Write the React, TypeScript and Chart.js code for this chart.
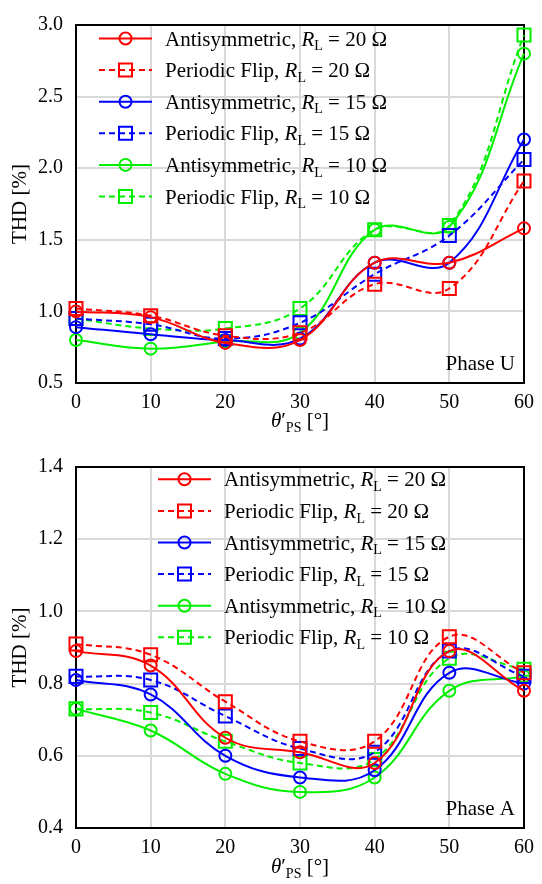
import React, { useEffect, useRef } from 'react';
import { Chart, registerables } from 'chart.js';

Chart.register(...registerables);

// ---------- DATA ----------
const angles = [0, 10, 20, 30, 40, 50, 60];

// Phase U
const uAnti20 = [1.0, 0.96, 0.78, 0.8, 1.34, 1.34, 1.58];
const uFlip20 = [1.02, 0.97, 0.83, 0.85, 1.19, 1.16, 1.91];
const uAnti15 = [0.89, 0.84, 0.8, 0.81, 1.34, 1.34, 2.2];
const uFlip15 = [0.95, 0.91, 0.81, 0.92, 1.26, 1.53, 2.06];
const uAnti10 = [0.8, 0.74, 0.79, 0.85, 1.57, 1.59, 2.8];
const uFlip10 = [0.95, 0.88, 0.88, 1.02, 1.57, 1.6, 2.93];

// Phase A
const aAnti20 = [0.89, 0.85, 0.65, 0.61, 0.58, 0.89, 0.78];
const aFlip20 = [0.91, 0.88, 0.75, 0.64, 0.64, 0.93, 0.83];
const aAnti15 = [0.81, 0.77, 0.6, 0.54, 0.56, 0.83, 0.8];
const aFlip15 = [0.82, 0.81, 0.71, 0.62, 0.61, 0.89, 0.82];
const aAnti10 = [0.73, 0.67, 0.55, 0.5, 0.54, 0.78, 0.82];
const aFlip10 = [0.73, 0.72, 0.64, 0.58, 0.59, 0.87, 0.84];

const seriesLabels = ['Antisymmetric', 'Periodic Flip', 'Antisymmetric', 'Periodic Flip', 'Antisymmetric', 'Periodic Flip'];
const seriesR = ['20', '20', '15', '15', '10', '10'];
const seriesColors = ['#ff0000', '#ff0000', '#0000ff', '#0000ff', '#00f000', '#00f000'];

const FONT = "'Liberation Serif', 'Times New Roman', serif";

type Part = { t: string; italic?: boolean; sub?: boolean };

function drawRich(ctx: CanvasRenderingContext2D, parts: Part[], x: number, y: number, size: number, align: 'left' | 'center') {
  const subSize = Math.round(size * 0.68);
  const fontFor = (p: Part) => `${p.italic ? 'italic ' : ''}${p.sub ? subSize : size}px ${FONT}`;
  let total = 0;
  for (const p of parts) {
    ctx.font = fontFor(p);
    total += ctx.measureText(p.t).width;
  }
  let cx = align === 'center' ? x - total / 2 : x;
  ctx.textAlign = 'left';
  ctx.textBaseline = 'alphabetic';
  for (const p of parts) {
    ctx.font = fontFor(p);
    ctx.fillText(p.t, cx, p.sub ? y + size * 0.22 : y);
    cx += ctx.measureText(p.t).width;
  }
}

const customPlugin = {
  id: 'custom',
  beforeDatasetsDraw(chart: any) {
    const { ctx, chartArea } = chart;
    ctx.save();
    ctx.strokeStyle = '#000';
    ctx.lineWidth = 2;
    ctx.strokeRect(chartArea.left, chartArea.top, chartArea.right - chartArea.left, chartArea.bottom - chartArea.top);
    ctx.restore();
  },
  afterDraw(chart: any, _args: any, opts: any) {
    const { ctx, chartArea } = chart;
    ctx.save();
    ctx.fillStyle = '#000';
    // legend
    chart.data.datasets.forEach((ds: any, i: number) => {
      const y = opts.legendY + i * opts.legendStep;
      const x0 = opts.legendX;
      const x1 = x0 + 53;
      const mx = (x0 + x1) / 2;
      ctx.strokeStyle = ds.borderColor;
      ctx.lineWidth = 2;
      ctx.setLineDash(ds.borderDash || []);
      ctx.beginPath();
      ctx.moveTo(x0, y);
      ctx.lineTo(x1, y);
      ctx.stroke();
      ctx.setLineDash([]);
      ctx.beginPath();
      if (ds.pointStyle === 'rect') {
        ctx.rect(mx - 6.5, y - 6.5, 13, 13);
      } else {
        ctx.arc(mx, y, 6, 0, Math.PI * 2);
      }
      ctx.stroke();
      ctx.fillStyle = '#000';
      drawRich(
        ctx,
        [
          { t: seriesLabels[i] + ', ' },
          { t: 'R', italic: true },
          { t: 'L', sub: true },
          { t: ' = ' + seriesR[i] + ' \u03A9' },
        ],
        x0 + 66,
        y + 7,
        21,
        'left'
      );
    });
    // phase label
    ctx.font = `21px ${FONT}`;
    ctx.textAlign = 'right';
    ctx.textBaseline = 'alphabetic';
    ctx.fillStyle = '#000';
    ctx.fillText(opts.phase, chartArea.right - 9, chartArea.bottom - 13);
    // x title
    drawRich(
      ctx,
      [{ t: '\u03B8', italic: true }, { t: '\u2032' }, { t: 'PS', sub: true }, { t: ' [\u00B0]' }],
      (chartArea.left + chartArea.right) / 2,
      opts.xTitleY,
      21,
      'center'
    );
    // y title
    ctx.translate(20, (chartArea.top + chartArea.bottom) / 2);
    ctx.rotate(-Math.PI / 2);
    ctx.font = `21px ${FONT}`;
    ctx.textAlign = 'center';
    ctx.textBaseline = 'middle';
    ctx.fillText('THD [%]', 0, 0);
    ctx.restore();
  },
};

function makeDatasets(vals: number[][]) {
  return vals.map((v, i) => ({
    label: seriesLabels[i] + ', RL = ' + seriesR[i] + ' \u03A9',
    data: angles.map((a, j) => ({ x: a, y: v[j] })),
    borderColor: seriesColors[i],
    backgroundColor: 'transparent',
    borderWidth: 2,
    borderDash: i % 2 === 1 ? [6, 4] : [],
    pointStyle: i % 2 === 1 ? 'rect' : 'circle',
    pointRadius: i % 2 === 1 ? 9.2 : 6,
    pointBorderWidth: 2,
    pointBorderColor: seriesColors[i],
    pointBackgroundColor: 'transparent',
    tension: 0.4,
    clip: false,
  }));
}

function ChartPanel(props: {
  vals: number[][];
  yMin: number;
  yMax: number;
  yStep: number;
  padTop: number;
  xHeight: number;
  legendX: number;
  legendY: number;
  phase: string;
  xTitleY: number;
  xTickPad: number;
}) {
  const ref = useRef<HTMLCanvasElement | null>(null);
  useEffect(() => {
    if (!ref.current) return;
    const chart = new Chart(ref.current, {
      type: 'line',
      data: { datasets: makeDatasets(props.vals) as any },
      options: {
        responsive: false,
        animation: false,
        events: [],
        layout: { autoPadding: false, padding: { left: 0, right: 12, top: props.padTop, bottom: 0 } },
        plugins: {
          legend: { display: false },
          tooltip: { enabled: false },
          custom: {
            legendX: props.legendX,
            legendY: props.legendY,
            legendStep: 31.6,
            phase: props.phase,
            xTitleY: props.xTitleY,
          },
        } as any,
        scales: {
          x: {
            type: 'linear',
            min: 0,
            max: 60,
            afterFit: (s: any) => {
              s.height = props.xHeight;
            },
            ticks: {
              stepSize: 10,
              color: '#000',
              font: { family: FONT, size: 20 },
              padding: props.xTickPad,
              maxRotation: 0,
            },
            grid: { color: '#d9d9d9', lineWidth: 2, drawTicks: false },
            border: { display: false },
          },
          y: {
            type: 'linear',
            min: props.yMin,
            max: props.yMax,
            afterFit: (s: any) => {
              s.width = 76;
            },
            ticks: {
              stepSize: props.yStep,
              color: '#000',
              font: { family: FONT, size: 20 },
              padding: 13,
              callback: (v: any) => Number(v).toFixed(1),
            },
            grid: { color: '#d9d9d9', lineWidth: 2, drawTicks: false },
            border: { display: false },
          },
        },
      },
      plugins: [customPlugin],
    });
    return () => chart.destroy();
  }, []);
  return <canvas ref={ref} width={542} height={442} style={{ display: 'block', width: 542, height: 442 }} />;
}

export default function App() {
  return (
    <div style={{ position: 'absolute', left: 0, top: 0, width: 542, height: 884, background: '#fff' }}>
      <ChartPanel
        vals={[uAnti20, uFlip20, uAnti15, uFlip15, uAnti10, uFlip10]}
        yMin={0.5}
        yMax={3.0}
        yStep={0.5}
        padTop={13}
        xHeight={59}
        legendX={99}
        legendY={38.5}
        phase="Phase U"
        xTitleY={427}
        xTickPad={8}
      />
      <ChartPanel
        vals={[aAnti20, aFlip20, aAnti15, aFlip15, aAnti10, aFlip10]}
        yMin={0.4}
        yMax={1.4}
        yStep={0.2}
        padTop={17}
        xHeight={56}
        legendX={158}
        legendY={37.3}
        phase="Phase A"
        xTitleY={431}
        xTickPad={8}
      />
    </div>
  );
}
